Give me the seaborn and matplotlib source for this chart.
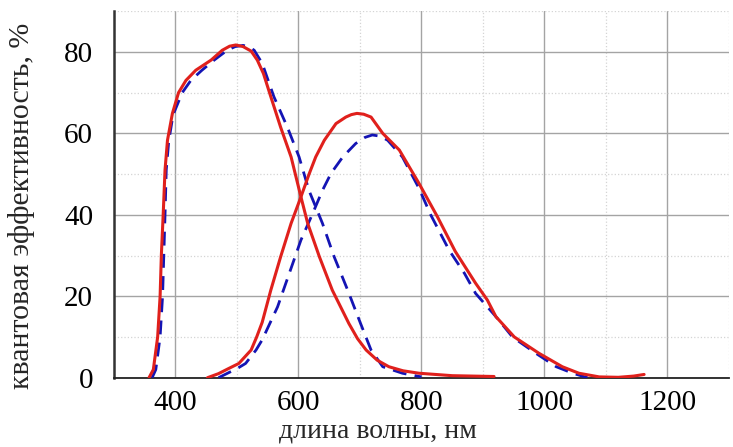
import pandas as pd
import seaborn as sns
import matplotlib.pyplot as plt
from matplotlib.ticker import MultipleLocator

# Синий канал (короткие волны)
wl_short_meas = [357, 364, 371, 375, 377, 380, 383, 387, 395, 405, 417, 433, 458, 476, 488, 498, 510,
                 523, 533, 543, 555, 571, 588, 604, 615, 634, 655, 682, 696, 710, 728, 747, 770, 796, 850, 918]
qe_short_meas = [0, 2, 10, 20, 30, 40, 51, 58.3, 64.9, 70, 73, 75.5, 78, 80.4, 81.4, 81.7, 81.3,
                 80.2, 78, 74.7, 69, 61.5, 54.2, 44.4, 37.9, 29.7, 21.5, 13.3, 9.6, 6.8, 4.3, 2.7, 1.7, 1.1, 0.5, 0.3]
wl_short_calc = [362, 368, 375, 379, 381, 383, 385, 389, 396, 411, 425, 443, 463, 484, 497, 510, 520,
                 528, 541, 560, 582, 601, 617, 639, 658, 680, 701, 718, 737, 769, 800]
qe_short_calc = [0, 2, 10, 20, 30, 40, 51, 58, 64.5, 70, 73, 75.5, 78, 80.4, 81.3, 81.6, 81.2,
                 80.4, 77.2, 69, 61.5, 54.2, 46, 37.9, 29.7, 21.5, 13.3, 6.8, 2.7, 1.1, 0.2]

# Красный канал (длинные волны)
wl_long_meas = [452, 470, 487, 503, 523, 532, 541, 555, 571, 588, 604, 617, 628, 642, 661, 677, 686, 695,
                706, 718, 737, 764, 796, 826, 855, 888, 907, 921, 951, 991, 1029, 1056, 1089, 1120, 1145, 1162]
qe_long_meas = [0, 1, 2.3, 3.5, 6.8, 10, 13.6, 21.5, 29.7, 37.9, 44.4, 49.9, 54.2, 58.3, 62.4, 64, 64.6, 64.9,
                64.7, 64, 60, 55.9, 47.7, 39.5, 31, 23.2, 19.1, 15, 10, 6, 2.7, 1.1, 0.2, 0.1, 0.4, 0.8]
wl_long_calc = [470, 490, 503, 514, 531, 541, 566, 585, 604, 623, 639, 653, 672, 693, 708, 720, 733, 745, 769,
                796, 815, 845, 870, 888, 921, 948, 986, 1019, 1046, 1070]
qe_long_calc = [0, 1.5, 2.5, 3.5, 6.8, 9.3, 17.4, 25.6, 33.8, 40.3, 46, 50.2, 54.2, 57.5, 59, 59.6, 59.3, 58.3, 54.2,
                46.5, 40, 31.3, 25.6, 20.7, 15, 10, 6, 2.7, 1.1, 0]

sns.set_style("white")
plt.rcParams['font.family'] = ['Liberation Serif', 'DejaVu Serif']

fig = plt.figure(figsize=(7.33, 4.47), dpi=100)
ax = fig.add_axes([0.1555, 0.155, 0.839, 0.82])

red = '#e0201c'
blue = '#1414b4'

for wl, qe in [(wl_short_calc, qe_short_calc), (wl_long_calc, qe_long_calc)]:
    sns.lineplot(x=wl, y=qe, ax=ax, color=blue, lw=2.0, estimator=None,
                 linestyle=(0, (5, 3)), zorder=3)
for wl, qe in [(wl_short_meas, qe_short_meas), (wl_long_meas, qe_long_meas)]:
    sns.lineplot(x=wl, y=qe, ax=ax, color=red, lw=2.2, estimator=None, zorder=4)

ax.set_xlim(300, 1300)
ax.set_ylim(0, 90)
ax.xaxis.set_major_locator(MultipleLocator(200))
ax.xaxis.set_minor_locator(MultipleLocator(100))
ax.yaxis.set_major_locator(MultipleLocator(20))
ax.yaxis.set_minor_locator(MultipleLocator(10))

# Сетка
ax.grid(which='major', color='#a4a4a4', lw=1.0, ls='-')
ax.grid(which='minor', color='#d4d4d4', lw=0.9, ls=':')
ax.set_axisbelow(True)

ax.spines['top'].set_visible(False)
ax.spines['right'].set_visible(False)
ax.spines['left'].set_color('#333333')
ax.spines['left'].set_linewidth(1.8)
ax.spines['bottom'].set_color('#222222')
ax.spines['bottom'].set_linewidth(1.3)

ax.tick_params(axis='both', which='both', direction='out', length=6, width=1.2,
               colors='#222222', labelcolor='black', labelsize=21)
ax.tick_params(axis='y', which='both', pad=9)
ax.tick_params(axis='x', which='both', pad=3)

ax.set_xlabel('длина волны, нм', fontsize=20)
ax.set_ylabel('квантовая эффективность, %', fontsize=21.5)
ax.xaxis.set_label_coords(0.43, -0.112)
ax.yaxis.set_label_coords(-0.128, 0.47)

plt.savefig('out.png', dpi=100)
